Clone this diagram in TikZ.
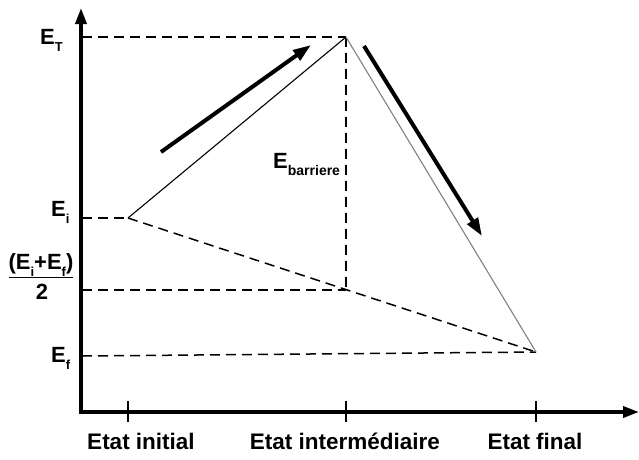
\documentclass[tikz,border=0pt]{standalone}
\usepackage{fontspec}
\setmainfont{Liberation Sans}
\usetikzlibrary{arrows.meta}
\newcommand{\lowsub}[1]{\raisebox{-7pt}{\fontsize{13}{13}\selectfont #1}}
\begin{document}
\begin{tikzpicture}[x=1pt,y=-1pt,
  axis/.style={line width=3.5pt,-{Triangle[length=16pt,width=11pt]}},
  guide/.style={dash pattern=on 10pt off 6pt,line width=1.5pt},
  rise/.style={line width=1.1pt},
  fall/.style={line width=1.1pt,gray},
  flow/.style={line width=4pt,-{Triangle[length=18pt,width=12pt]}},
  tick/.style={line width=1.3pt},
  lab/.style={font=\bfseries\fontsize{22}{24}\selectfont,inner sep=0pt},
  slab/.style={font=\bfseries\fontsize{22.5}{24}\selectfont,inner sep=0pt},
]
\useasboundingbox (0,0) rectangle (639,459);
% axes
\coordinate (O) at (81,412);
\coordinate (Ytop) at (81,8);
\coordinate (Xend) at (639,412);
\draw[axis] (O) -- (Ytop);
\draw[axis] ([xshift=-1.75pt]O) -- (Xend);
% states
\coordinate (Ei) at (128,218);
\coordinate (ET) at (346,37);
\coordinate (M) at (346,290);
\coordinate (Ef) at (536,352);
\coordinate (aT) at (82,37);
\coordinate (ai) at (82,218);
\coordinate (am) at (82,290);
\coordinate (af) at (82,356);
% guides
\draw[guide] (aT) -- (ET);
\draw[guide] (ai) -- (Ei);
\draw[guide] (am) -- (M);
\draw[guide] (af) -- (Ef);
\draw[guide] (ET) -- (M);
\draw[guide] (Ei) -- (Ef);
% paths
\draw[rise] (Ei) -- (ET);
\draw[fall] (ET) -- (Ef);
% flow arrows
\coordinate (f1a) at (161,152);
\coordinate (f1b) at (311,45);
\coordinate (f2a) at (364,46);
\coordinate (f2b) at (482,236);
\draw[flow] (f1a) -- (f1b);
\draw[flow] (f2a) -- (f2b);
% ticks
\coordinate (t1a) at (128,401); \coordinate (t1b) at (128,422);
\coordinate (t2a) at (346,401); \coordinate (t2b) at (346,422);
\coordinate (t3a) at (536,401); \coordinate (t3b) at (536,422);
\draw[tick] (t1a) -- (t1b);
\draw[tick] (t2a) -- (t2b);
\draw[tick] (t3a) -- (t3b);
% labels
\node[lab,anchor=base west] (lT) at (40,44) {E\lowsub{T}};
\node[lab,anchor=base west] (li) at (51,216) {E\lowsub{i}};
\node[lab,anchor=base west] (lf) at (51,362) {E\lowsub{f}};
\node[lab,anchor=base] (lm) at (41,269) {\underline{(E\lowsub{i}+E\lowsub{f})}};
\node[lab,anchor=base] (l2) at (42,299) {2};
\node[lab,anchor=base west] (lb) at (273,168) {E{\fontsize{14}{14}\selectfont\raisebox{-7pt}{barriere}}};
\node[slab,anchor=base] (s1) at (141,449) {Etat initial};
\node[slab,anchor=base] (s2) at (345,449) {Etat intermédiaire};
\node[slab,anchor=base] (s3) at (535,449) {Etat final};
\end{tikzpicture}
\end{document}
